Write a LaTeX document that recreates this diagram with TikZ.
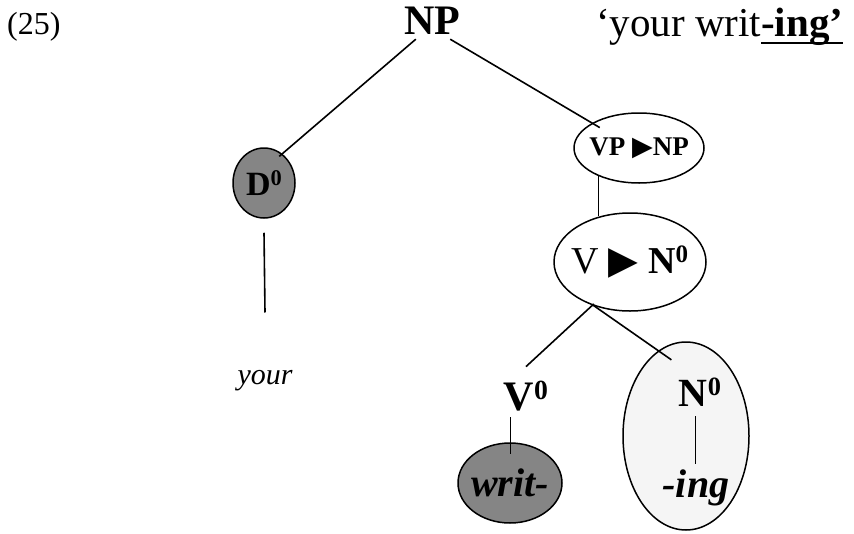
\documentclass[tikz,border=0pt]{standalone}
\usepackage{fontspec}
\usepackage{graphicx}
\setmainfont{Liberation Serif}
\newfontfamily\symfont{DejaVu Sans}
\usetikzlibrary{shapes.geometric}

\newcommand\fs[1]{\fontsize{#1}{#1}\selectfont}
\newcommand\zsup{\raisebox{0.27em}{\scalebox{0.66}{0}}}
\newcommand\rtri[1]{{\symfont\scalebox{#1}{▶}}}
% text that does not widen its bubble
\newcommand\inside[1]{\makebox[0pt]{#1}}
% heavy underline running just under the descenders
\newcommand\thickul[1]{\begingroup\setbox0\hbox{#1}%
  \rlap{\rule[-0.2em]{\wd0}{2.2pt}}\box0\endgroup}

\tikzset{
  tree/.style={line width=1.6pt, black},
  thinline/.style={line width=1pt, black},
  bubble/.style={ellipse, draw, line width=1.5pt, inner sep=0pt},
  dark/.style={bubble, fill=black!48},
  pale/.style={bubble, fill=black!4},
  plain/.style={bubble, fill=white},
  lab/.style={inner sep=0pt}
}

\begin{document}
\begin{tikzpicture}[x=1pt,y=-1pt]
\useasboundingbox (0,0) rectangle (854,533);
\fill[white] (0,0) rectangle (854,533);

% heading line
\node[lab, anchor=base west, font=\fs{32}] (ex) at (7,34) {(25)};
\node[lab, anchor=base, font=\fs{42}\bfseries] (np) at (432,34) {NP};
\node[lab, anchor=base west, font=\fs{41}] (gloss) at (596,36)
  {‘your writ\thickul{\textbf{-ing’}}};

% determiner branch
\node[dark, minimum width=62, minimum height=70, font=\fs{34}\bfseries] (d) at (264,183) {\inside{D\zsup}};
\node[lab, font=\fs{30}\itshape] (your) at (265,381) {your};

% nominalised verb branch
\node[plain, minimum width=130, minimum height=70, font=\fs{27}\bfseries] (vp) at (639,148) {\inside{VP \rtri{1.0}NP}};
\node[plain, minimum width=152, minimum height=98, font=\fs{38}] (vn) at (630,262) {\inside{V \rtri{1.02}\ \textbf{N\zsup}}};

\node[lab, font=\fs{42}\bfseries] (v0) at (526,396) {V\zsup};
\node[dark, minimum width=104, minimum height=80, font=\fs{40}\bfseries\itshape] (writ) at (510,483) {\inside{writ-}};

\node[pale, minimum width=126, minimum height=188] (nbub) at (686,436) {};
\node[lab, font=\fs{40}\bfseries] (n0) at (700,392) {N\zsup};
\node[lab, font=\fs{40}\bfseries\itshape] (ing) at (696,488) {-ing};

% branches
\draw[tree, shorten >=-4pt] ([xshift=12pt,yshift=-5pt]np.south west) -- (d.58);
\draw[tree] ([yshift=-14pt]d.south) -- ([yshift=58pt]your.north);
\draw[tree, shorten >=-9pt] ([xshift=-10pt,yshift=-5pt]np.south east) -- (vp.152);
\draw[tree] (vp.215) -- (vp.215 |- vn.122);
\draw[tree, shorten <=-2pt] (vn.229) -- ([yshift=14pt]v0.north);
\draw[tree, shorten <=-2pt, shorten >=-16pt] (vn.231) -- (nbub.108);
\draw[thinline] ([xshift=-16pt,yshift=-6pt]v0.south) -- ([xshift=-16pt,yshift=-12pt]v0.south |- writ.north);
\draw[thinline] ([xshift=-5pt,yshift=-10pt]n0.south) -- ([xshift=-1pt,yshift=6pt]ing.north);
\end{tikzpicture}
\end{document}
